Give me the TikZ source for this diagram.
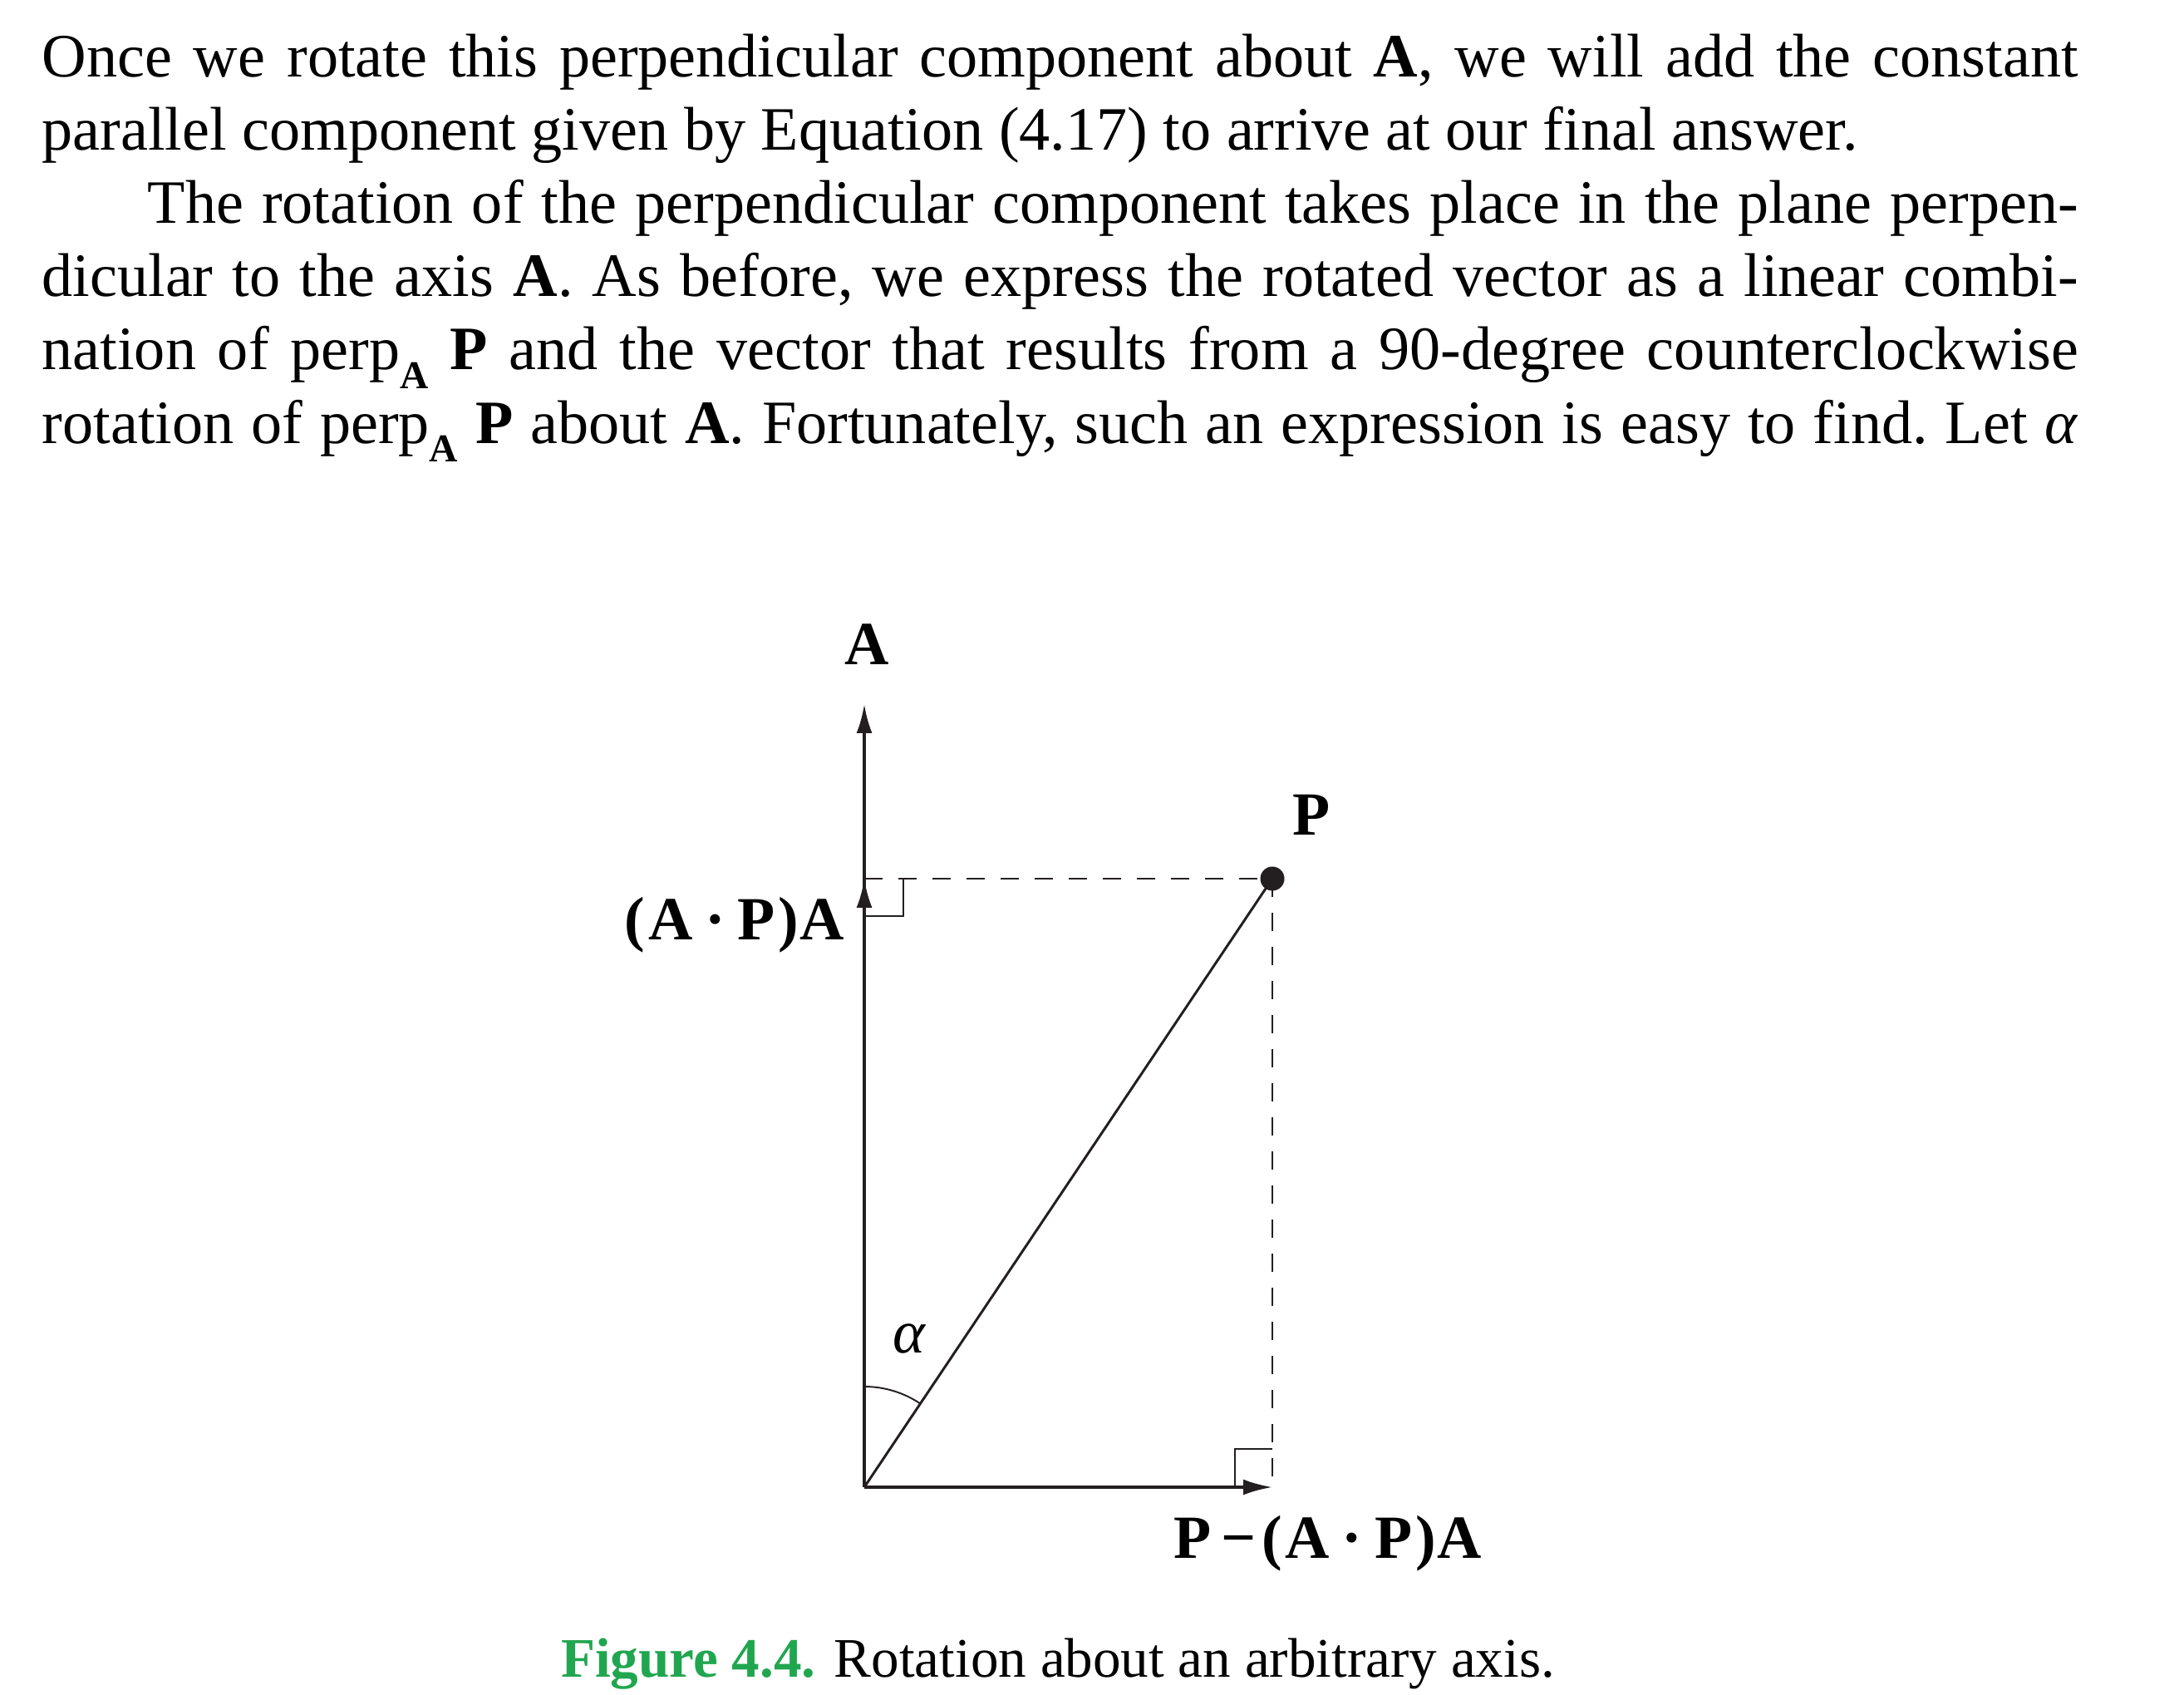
\documentclass[tikz,border=0pt]{standalone}
\usepackage{fontspec}
\setmainfont{Liberation Serif}
\usetikzlibrary{arrows.meta,calc}
\definecolor{figgreen}{RGB}{33,166,80}
\definecolor{inkblack}{RGB}{35,31,32}
\newcommand{\perpA}{perp\raisebox{-0.3em}{\fontsize{13.5}{13.5}\selectfont\textbf{A}}}
\newcommand{\dotsp}{\hspace{0.2em}·\hspace{0.2em}}
\tikzset{
  vecline/.style={line width=1.1pt, -{Latex[length=0.35cm,width=0.19cm]}},
  helpline/.style={line width=0.55pt, dash pattern=on 0.22cm off 0.19cm},
  thinline/.style={line width=0.55pt},
  lbl/.style={font=\fontsize{21}{24}\selectfont\bfseries, inner sep=0pt},
}

\begin{document}
\begin{tikzpicture}[x=1cm,y=1cm]
			%%%%% START %%%%%
			\useasboundingbox (0,0) rectangle (26.28,20.38);
			
			\node[anchor=base west, inner sep=0pt, text width=24.5cm, align=justify,
			      font=\fontsize{21.1}{25.04}\selectfont] (body) at (0.5,19.45) {%
			  \tolerance=10000\hyphenpenalty=10000\frenchspacing
			  Once we rotate this perpendicular component about \textbf{A}, we will add the constant\linebreak
			  parallel component given by Equation (4.17) to arrive at our final answer.\par
			  \hspace*{1.27cm}The rotation of the perpendicular component takes place in the plane perpen-\linebreak
			  dicular to the axis \textbf{A}. As before, we express the rotated vector as a linear combi-\linebreak
			  nation of \perpA\ \textbf{P} and the vector that results from a 90-degree counterclockwise\linebreak
			  rotation of \perpA\ \textbf{P} about \textbf{A}. Fortunately, such an expression is easy to find. Let \textit{α}\parfillskip=0pt\par};
			
			\coordinate (O) at (10.40,2.49);
			\coordinate (Atip) at (10.40,11.91);
			\coordinate (AP) at (10.40,9.81);
			\coordinate (Q) at (15.31,2.49);
			\node[circle, fill=inkblack, inner sep=0pt, minimum size=0.29cm] (P) at (15.31,9.81) {};
			
			\draw[helpline, inkblack] (AP) -- (P.center);
			\draw[helpline, inkblack] (P.center) -- (Q);
			\draw[thinline, inkblack] ($(AP)+(0,-0.45)$) -| ($(AP)+(0.47,0)$);
			\draw[thinline, inkblack] ($(Q)+(-0.45,0)$) |- ($(Q)+(0,0.46)$);
			\draw[thinline, inkblack] ($(O)+(0,1.21)$) arc[start angle=90, end angle=56.1, radius=1.21];
			
			\draw[vecline, inkblack] (O) -- (Atip);
			\draw[vecline, inkblack] (O) -- (AP);
			\draw[vecline, inkblack] (O) -- (Q);
			\draw[line width=0.85pt, inkblack] (O) -- (P.center);
			
			\node[lbl] (lA) at (10.43,12.63) {A};
			\node[lbl] (lP) at (15.78,10.58) {P};
			\node[lbl, anchor=east] (lAP) at (10.17,9.25) {(\hspace{0.05em}A\dotsp P\hspace{0.05em})\hspace{0.03em}A};
			\node[font=\fontsize{21}{24}\selectfont\itshape, inner sep=0pt] (alpha) at (10.94,4.28) {α};
			\node[lbl] (lPerp) at (15.98,1.81) {P\hspace{0.15em}−\hspace{0.1em}(\hspace{0.05em}A\dotsp P\hspace{0.05em})\hspace{0.03em}A};
			
			\node[anchor=base, inner sep=0pt, font=\fontsize{19.1}{25}\selectfont] (cap) at (12.73,0.21)
			  {\textcolor{figgreen}{\textbf{Figure 4.4.}} Rotation about an arbitrary axis.};
			
			%%%%% END %%%%%
		\end{tikzpicture}
\end{document}
